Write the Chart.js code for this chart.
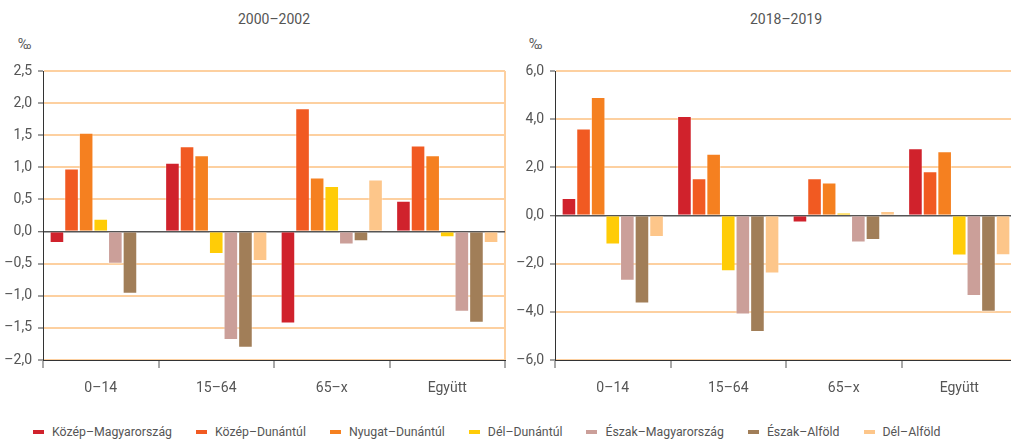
<!DOCTYPE html>
<html lang="hu">
<head>
<meta charset="utf-8">
<script src="https://cdn.jsdelivr.net/npm/chart.js@4/dist/chart.umd.min.js"></script>
<style>
  html, body { margin: 0; padding: 0; background: #fff; }
  body { width: 1011px; height: 442px; overflow: hidden; position: relative; font-family: Roboto, "Open Sans", sans-serif; color: #555; }
  .box { position: absolute; top: 0; height: 400px; }
  #left-box { left: 0; width: 506px; }
  #right-box { left: 506px; width: 512px; }
  .title { position: absolute; top: 11px; font-size: 14px; color: #555; transform: translateX(-50%); white-space: nowrap; }
  .unit { position: absolute; top: 36px; font-size: 14px; color: #555; }
  #legend { position: absolute; top: 425px; left: 33px; display: flex; gap: 24px; font-size: 12.3px; color: #555; white-space: nowrap; }
  #legend .item { display: flex; align-items: center; }
  #legend .swatch { width: 11px; height: 4px; margin-right: 8px; }
</style>
</head>
<body>
<div class="title" style="left:274px">2000–2002</div>
<div class="title" style="left:786px">2018–2019</div>
<div class="unit" style="left:18px">‰</div>
<div class="unit" style="left:529px">‰</div>
<div class="box" id="left-box"><canvas id="chart-left"></canvas></div>
<div class="box" id="right-box"><canvas id="chart-right"></canvas></div>
<div id="legend"></div>
<script>
// ---- data ----
const categories = ['0–14', '15–64', '65–x', 'Együtt'];
const regions = ['Közép–Magyarország', 'Közép–Dunántúl', 'Nyugat–Dunántúl', 'Dél–Dunántúl',
  'Észak–Magyarország', 'Észak–Alföld', 'Dél–Alföld'];
const regionColors = ['#d0222c', '#f15a22', '#f58020', '#ffcc07', '#cb9f99', '#a17e58', '#fdc68a'];

// 2000–2002 (‰)
const kozepMagyar2000 = [-0.18, 1.07, -1.43, 0.48];
const kozepDunantul2000 = [0.98, 1.33, 1.92, 1.34];
const nyugatDunantul2000 = [1.54, 1.19, 0.84, 1.19];
const delDunantul2000 = [0.20, -0.35, 0.71, -0.09];
const eszakMagyar2000 = [-0.50, -1.69, -0.20, -1.25];
const eszakAlfold2000 = [-0.97, -1.81, -0.15, -1.42];
const delAlfold2000 = [0, -0.46, 0.81, -0.18];

// 2018–2019 (‰)
const kozepMagyar2018 = [0.73, 4.13, -0.29, 2.79];
const kozepDunantul2018 = [3.61, 1.55, 1.55, 1.84];
const nyugatDunantul2018 = [4.92, 2.56, 1.37, 2.67];
const delDunantul2018 = [-1.20, -2.31, 0.12, -1.66];
const eszakMagyar2018 = [-2.71, -4.11, -1.12, -3.34];
const eszakAlfold2018 = [-3.65, -4.84, -1.02, -4.00];
const delAlfold2018 = [-0.89, -2.41, 0.19, -1.65];

const values2000 = [kozepMagyar2000, kozepDunantul2000, nyugatDunantul2000, delDunantul2000,
  eszakMagyar2000, eszakAlfold2000, delAlfold2000];
const values2018 = [kozepMagyar2018, kozepDunantul2018, nyugatDunantul2018, delDunantul2018,
  eszakMagyar2018, eszakAlfold2018, delAlfold2018];

// ---- helpers ----
const FONT = 'Roboto, "Open Sans", sans-serif';
const gridOrange = '#fdd0a0';
const fmt = v => (v < 0 ? '–' : '') + Math.abs(v).toFixed(1).replace('.', ',');

function makeChart(canvasId, series, min, max, step, axisWidth) {
  const datasets = series.map((data, i) => ({
    label: regions[i],
    data,
    backgroundColor: regionColors[i],
    borderColor: 'rgba(255,255,255,0.35)',
    borderWidth: 1,
    barPercentage: 1,
    categoryPercentage: 0.885,
  }));

  const isZero = ctx => ctx.tick && ctx.tick.value === 0;

  return new Chart(document.getElementById(canvasId), {
    type: 'bar',
    data: { labels: categories, datasets },
    options: {
      responsive: true,
      maintainAspectRatio: false,
      animation: false,
      layout: { padding: { top: 71, right: 1, bottom: 0, left: 0 } },
      plugins: { legend: { display: false }, tooltip: { enabled: false } },
      scales: {
        x: {
          afterFit: s => { s.height = 40; },
          grid: {
            offset: true,
            drawOnChartArea: true,
            // only the closing line on the right edge shows inside the plot
            color: ctx => (ctx.type === 'tick' ? 'rgba(0,0,0,0)' : gridOrange),
            lineWidth: 2,
            tickColor: '#555',
            tickWidth: 1,
            tickLength: 8,
          },
          border: { color: '#333', width: 1 },
          ticks: { color: '#555', padding: 12, font: { family: FONT, size: 14 } },
        },
        y: {
          min, max,
          afterFit: s => { s.width = axisWidth; },
          ticks: {
            stepSize: step,
            color: '#555',
            padding: 6,
            font: { family: FONT, size: 14 },
            callback: v => fmt(v),
          },
          grid: {
            color: ctx => (isZero(ctx) ? '#555' : gridOrange),
            lineWidth: ctx => (isZero(ctx) ? 1.5 : 2),
            tickColor: '#444',
            tickWidth: 1,
            tickLength: 5,
          },
          border: { color: '#333', width: 1 },
        },
      },
    },
  });
}

makeChart('chart-left', values2000, -2, 2.5, 0.5, 43);
makeChart('chart-right', values2018, -6, 6, 2, 49);

// ---- legend ----
const legend = document.getElementById('legend');
regions.forEach((name, i) => {
  const item = document.createElement('div');
  item.className = 'item';
  item.innerHTML = `<span class="swatch" style="background:${regionColors[i]}"></span><span>${name}</span>`;
  legend.appendChild(item);
});
</script>
</body>
</html>
